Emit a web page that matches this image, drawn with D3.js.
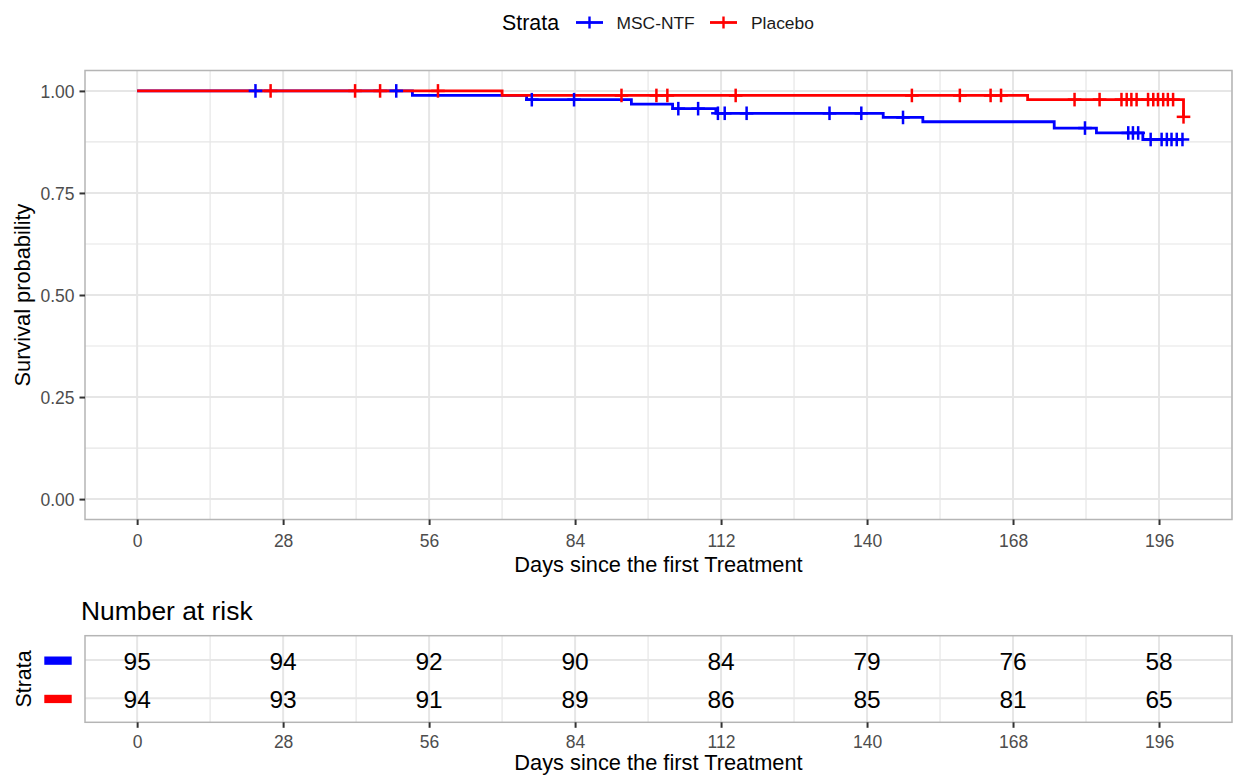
<!DOCTYPE html>
<html>
<head>
<meta charset="utf-8">
<script src="https://cdn.jsdelivr.net/npm/d3@7"></script>
<style>
  body { margin: 0; background: #fff; }
  svg { display: block; font-family: "Liberation Sans", Arial, sans-serif; }
</style>
</head>
<body>
<svg id="chart" width="1238" height="776"></svg>
<script>
// ---- data -------------------------------------------------------------
const strata = ["MSC-NTF", "Placebo"];
const strataColors = ["#0000FF", "#FF0000"];

// Kaplan-Meier steps: day of each step and survival after it
const mscTimes = [0, 52.8, 74.7, 94.8, 102.7, 111.0, 143.1, 150.7, 175.9, 184.0, 192.9, 200.5];
const mscSurv  = [1, 0.9892, 0.9785, 0.9675, 0.9565, 0.9452, 0.935, 0.9245, 0.909, 0.897, 0.881, 0.881];
const placeboTimes = [0, 70.0, 170.8, 200.7];
const placeboSurv  = [1, 0.9889, 0.9787, 0.9365];

// censoring days
const mscCensor = [22.7, 49.7, 75.7, 83.8, 103.8, 107.6, 111.4, 112.7, 116.9, 132.8, 138.9, 146.9,
                   181.8, 190.1, 191.0, 192.0, 194.4, 196.5, 197.5, 198.4, 199.4, 200.5];
const placeboCensor = [25.6, 41.8, 46.6, 57.7, 92.9, 99.6, 101.7, 114.8, 148.6, 157.8, 163.7, 165.7,
                       179.8, 184.6, 188.8, 189.8, 190.7, 191.7, 193.9, 194.9, 195.8, 196.8, 197.7,
                       198.7, 200.7];

// number at risk table
const riskTimes = [0, 28, 56, 84, 112, 140, 168, 196];
const mscRisk = [95, 94, 92, 90, 84, 79, 76, 58];
const placeboRisk = [94, 93, 91, 89, 86, 85, 81, 65];

const xTicks = [0, 28, 56, 84, 112, 140, 168, 196];
const xMinor = [14, 42, 70, 98, 126, 154, 182, 210];
const yTicks = [0, 0.25, 0.5, 0.75, 1];
const yMinor = [0.125, 0.375, 0.625, 0.875];

const curves = [
  { name: strata[0], color: strataColors[0], times: mscTimes, surv: mscSurv, censor: mscCensor, risk: mscRisk },
  { name: strata[1], color: strataColors[1], times: placeboTimes, surv: placeboSurv, censor: placeboCensor, risk: placeboRisk }
];

// ---- layout -----------------------------------------------------------
const svg = d3.select("#chart");
const panel = { left: 85, right: 1232, top: 70.5, bottom: 519.5 };
const table = { top: 635.7, bottom: 722.3 };

const x = d3.scaleLinear().domain([-10, 210]).range([panel.left, panel.right]);
const y = d3.scaleLinear().domain([-0.05, 1.05]).range([panel.bottom, panel.top]);
const yRisk = d3.scalePoint().domain(strata).range([660, 698.3]);

const gridCol = "#e6e6e6";
const tickTextCol = "#4d4d4d";
const borderCol = "#b5b5b5";

function survAt(times, surv, t) {
  let s = surv[0];
  for (let i = 0; i < times.length; i++) if (times[i] <= t) s = surv[i];
  return s;
}

// ---- main panel -------------------------------------------------------
const main = svg.append("g");
main.append("rect").attr("x", panel.left).attr("y", panel.top)
  .attr("width", panel.right - panel.left).attr("height", panel.bottom - panel.top)
  .attr("fill", "#fff");

main.selectAll(".vminor").data(xMinor).join("line")
  .attr("x1", d => x(d)).attr("x2", d => x(d))
  .attr("y1", panel.top).attr("y2", panel.bottom)
  .attr("stroke", gridCol).attr("stroke-width", 1.2);
main.selectAll(".hminor").data(yMinor).join("line")
  .attr("y1", d => y(d)).attr("y2", d => y(d))
  .attr("x1", panel.left).attr("x2", panel.right)
  .attr("stroke", gridCol).attr("stroke-width", 1.2);
main.selectAll(".vmajor").data(xTicks).join("line")
  .attr("x1", d => x(d)).attr("x2", d => x(d))
  .attr("y1", panel.top).attr("y2", panel.bottom)
  .attr("stroke", gridCol).attr("stroke-width", 2);
main.selectAll(".hmajor").data(yTicks).join("line")
  .attr("y1", d => y(d)).attr("y2", d => y(d))
  .attr("x1", panel.left).attr("x2", panel.right)
  .attr("stroke", gridCol).attr("stroke-width", 2);

// survival curves
const stepLine = d3.line().curve(d3.curveStepAfter);
curves.forEach(c => {
  main.append("path")
    .attr("d", stepLine(c.times.map((t, i) => [x(t), y(c.surv[i])])))
    .attr("fill", "none").attr("stroke", c.color).attr("stroke-width", 2.8);
});

// censor marks
const arm = 6.8;
curves.forEach(c => {
  const g = main.append("g").attr("stroke", c.color).attr("stroke-width", 2.5);
  c.censor.forEach(t => {
    const cx = x(t), cy = y(survAt(c.times, c.surv, t));
    g.append("line").attr("x1", cx - arm).attr("x2", cx + arm).attr("y1", cy).attr("y2", cy);
    g.append("line").attr("x1", cx).attr("x2", cx).attr("y1", cy - arm).attr("y2", cy + arm);
  });
});

main.append("rect").attr("x", panel.left).attr("y", panel.top)
  .attr("width", panel.right - panel.left).attr("height", panel.bottom - panel.top)
  .attr("fill", "none").attr("stroke", borderCol).attr("stroke-width", 1.5);

// axes
const xAxis = d3.axisBottom(x).tickValues(xTicks).tickSize(5.5).tickPadding(9);
const yAxis = d3.axisLeft(y).tickValues(yTicks).tickSize(5.5).tickPadding(5).tickFormat(d3.format(".2f"));

function styleAxis(g) {
  g.select(".domain").remove();
  g.selectAll(".tick line").attr("stroke", "#333").attr("stroke-width", 2);
  g.selectAll(".tick text").attr("fill", tickTextCol).attr("font-size", 17.5)
    .attr("font-family", "Liberation Sans, Arial, sans-serif");
}
svg.append("g").attr("transform", `translate(0,${panel.bottom})`).call(xAxis).call(styleAxis)
  .selectAll(".tick text").attr("dy", null).attr("y", 27.5);
svg.append("g").attr("transform", `translate(${panel.left},0)`).call(yAxis).call(styleAxis)
  .selectAll(".tick text").attr("dy", "0.36em");

svg.append("text").attr("x", (panel.left + panel.right) / 2).attr("y", 571.5)
  .attr("text-anchor", "middle").attr("font-size", 21.8).attr("fill", "#000")
  .text("Days since the first Treatment");
svg.append("text").attr("transform", `translate(30,${(panel.top + panel.bottom) / 2}) rotate(-90)`)
  .attr("text-anchor", "middle").attr("font-size", 21.8).attr("fill", "#000")
  .text("Survival probability");

// ---- legend -----------------------------------------------------------
const legend = svg.append("g");
legend.append("text").attr("x", 502).attr("y", 30).attr("font-size", 21.4).attr("fill", "#000").text("Strata");
const keyPos = [{ k: 576, t: 616.5 }, { k: 710, t: 751 }];
curves.forEach((c, i) => {
  const k = keyPos[i], ky = 22.5;
  legend.append("line").attr("x1", k.k).attr("x2", k.k + 27).attr("y1", ky).attr("y2", ky)
    .attr("stroke", c.color).attr("stroke-width", 2.8);
  legend.append("line").attr("x1", k.k + 13.5).attr("x2", k.k + 13.5).attr("y1", ky - 6).attr("y2", ky + 6)
    .attr("stroke", c.color).attr("stroke-width", 2.4);
  legend.append("text").attr("x", k.t).attr("y", 29).attr("font-size", 17.4).attr("fill", "#1a1a1a").text(c.name);
});

// ---- risk table -------------------------------------------------------
svg.append("text").attr("x", 81).attr("y", 620).attr("font-size", 26.4).attr("fill", "#000").text("Number at risk");

const rt = svg.append("g");
rt.append("rect").attr("x", panel.left).attr("y", table.top)
  .attr("width", panel.right - panel.left).attr("height", table.bottom - table.top).attr("fill", "#fff");
rt.selectAll(".tvminor").data(xMinor).join("line")
  .attr("x1", d => x(d)).attr("x2", d => x(d)).attr("y1", table.top).attr("y2", table.bottom)
  .attr("stroke", gridCol).attr("stroke-width", 1.2);
rt.selectAll(".tvmajor").data(xTicks).join("line")
  .attr("x1", d => x(d)).attr("x2", d => x(d)).attr("y1", table.top).attr("y2", table.bottom)
  .attr("stroke", gridCol).attr("stroke-width", 2);
rt.selectAll(".thmajor").data(strata).join("line")
  .attr("y1", d => yRisk(d)).attr("y2", d => yRisk(d)).attr("x1", panel.left).attr("x2", panel.right)
  .attr("stroke", gridCol).attr("stroke-width", 2);

curves.forEach(c => {
  rt.append("g").selectAll("text").data(c.risk).join("text")
    .attr("x", (d, i) => x(riskTimes[i])).attr("y", yRisk(c.name) + 10)
    .attr("text-anchor", "middle").attr("font-size", 24.5).attr("fill", "#000")
    .text(d => d);
});

rt.append("rect").attr("x", panel.left).attr("y", table.top)
  .attr("width", panel.right - panel.left).attr("height", table.bottom - table.top)
  .attr("fill", "none").attr("stroke", borderCol).attr("stroke-width", 1.5);

// strata colour keys on the table's y axis
curves.forEach(c => {
  rt.append("rect").attr("x", 44.3).attr("y", yRisk(c.name) - 3.5).attr("width", 27.4).attr("height", 8.3)
    .attr("fill", c.color);
});

svg.append("g").attr("transform", `translate(0,${table.bottom})`).call(xAxis).call(styleAxis)
  .selectAll(".tick text").attr("dy", null).attr("y", 26);
svg.append("text").attr("x", (panel.left + panel.right) / 2).attr("y", 770)
  .attr("text-anchor", "middle").attr("font-size", 21.8).attr("fill", "#000")
  .text("Days since the first Treatment");
svg.append("text").attr("transform", `translate(31,${(table.top + table.bottom) / 2}) rotate(-90)`)
  .attr("text-anchor", "middle").attr("font-size", 21.4).attr("fill", "#000")
  .text("Strata");
</script>
</body>
</html>
